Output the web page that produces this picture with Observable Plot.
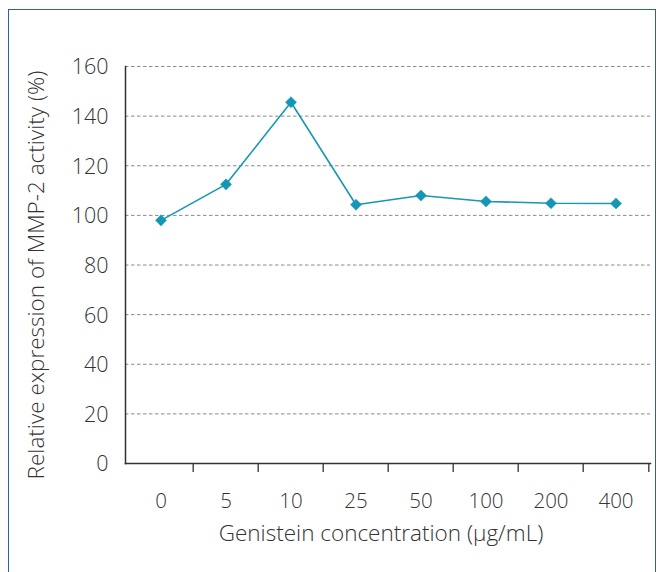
<!DOCTYPE html>
<html>
<head>
<meta charset="utf-8">
<script src="https://cdn.jsdelivr.net/npm/d3@7"></script>
<script src="https://cdn.jsdelivr.net/npm/@observablehq/plot@0.6"></script>
<style>
  html, body { margin: 0; padding: 0; background: #fff; }
  #wrap { position: relative; width: 659px; height: 572px; overflow: hidden; }
  #frame { position: absolute; left: 8px; top: 9px; width: 648px; height: 600px;
           border: 1.5px solid #2f5f9f; box-sizing: border-box; }
  #chart { position: absolute; left: 0; top: 0; }
  #chart svg text { font-weight: 300; }
</style>
</head>
<body>
<div id="wrap"><div id="frame"></div><div id="chart"></div></div>
<script>
const concentrations = ["0", "5", "10", "25", "50", "100", "200", "400"];
const activity = [98, 112.5, 145.6, 104.3, 108, 105.6, 104.9, 104.8];
const yTicks = [0, 20, 40, 60, 80, 100, 120, 140, 160];
const gridTicks = [20, 40, 60, 80, 100, 120, 140, 160];
const xTitle = "Genistein concentration (μg/mL)";
const yTitle = "Relative expression of MMP-2 activity (%)";

const data = concentrations.map((c, i) => ({conc: c, value: activity[i]}));

const W = 659, H = 572;
const mL = 125, mR = 9, mT = 66, mB = 109;
const bw = (W - mL - mR) / concentrations.length;
const font = "'Open Sans', 'Noto Sans', sans-serif";
const ink = "#333";

const plot = Plot.plot({
  width: W,
  height: H,
  marginLeft: mL,
  marginRight: mR,
  marginTop: mT,
  marginBottom: mB,
  style: {fontFamily: font, fontSize: "21px", color: ink, background: "transparent", overflow: "visible"},
  x: {type: "band", domain: concentrations, padding: 0},
  y: {domain: [0, 160]},
  marks: [
    Plot.ruleY(gridTicks, {stroke: "#8a8a8a", strokeWidth: 1, strokeDasharray: "3.5,2.5"}),
    Plot.axisY({ticks: yTicks, tickSize: 0, tickPadding: 17, fill: ink, fontSize: 21.5, dy: 1, label: null}),
    Plot.axisX({tickSize: 0, tickPadding: 30, fill: ink, fontSize: 20.5, label: null}),
    Plot.axisX({ticks: concentrations.slice(1), tickSize: 9, text: null, label: null, dx: -bw / 2, stroke: ink, strokeWidth: 1.3}),
    Plot.axisX({ticks: concentrations.slice(-1), tickSize: 9, text: null, label: null, dx: bw / 2, stroke: ink, strokeWidth: 1.3}),
    Plot.frame({anchor: "bottom", stroke: ink, strokeWidth: 1.5}),
    Plot.frame({anchor: "left", stroke: ink, strokeWidth: 1.5}),
    Plot.text([xTitle], {text: d => d, frameAnchor: "bottom", textAnchor: "middle", lineAnchor: "middle", dx: -7, dy: 70, fontSize: 22.5, fill: ink}),
    Plot.text([yTitle], {text: d => d, frameAnchor: "left", textAnchor: "middle", lineAnchor: "middle", rotate: -90, dx: -89, dy: 10, fontSize: 22.5, fill: ink}),
    Plot.line(data, {x: "conc", y: "value", stroke: "#1897b4", strokeWidth: 1.6}),
    Plot.dot(data, {x: "conc", y: "value", symbol: "diamond2", r: 5, fill: "#1497b4", stroke: "#1497b4", strokeWidth: 0.5})
  ]
});
document.getElementById("chart").appendChild(plot);
</script>
</body>
</html>
